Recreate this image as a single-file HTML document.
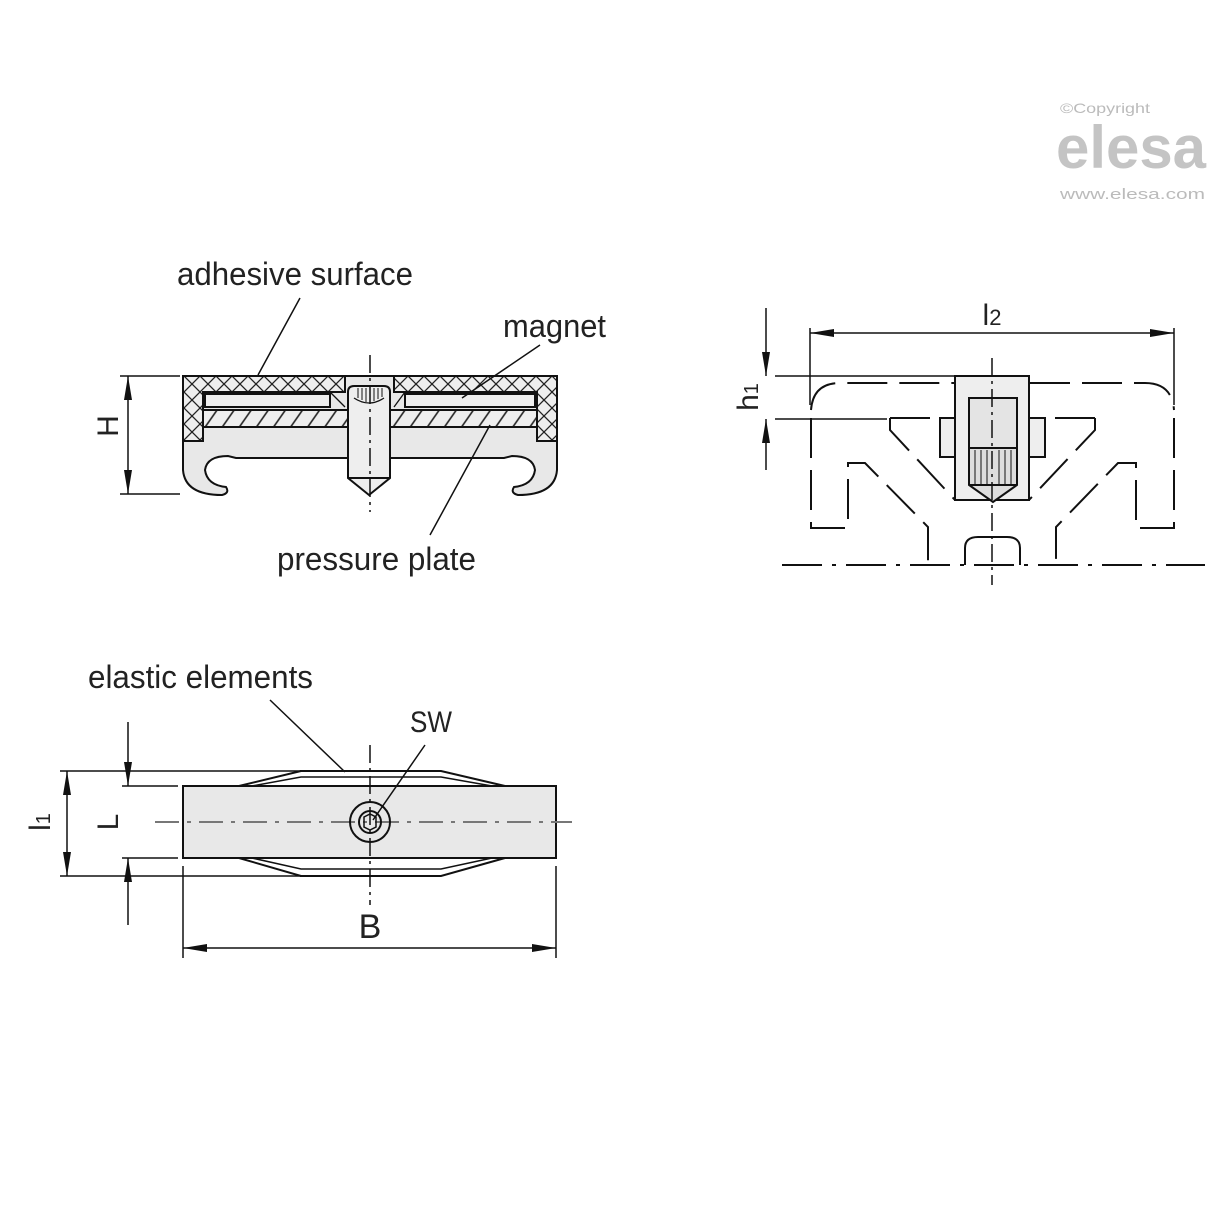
<!DOCTYPE html>
<html><head><meta charset="utf-8"><style>
html,body{margin:0;padding:0;background:#fff;}
svg{display:block}
text{font-family:"Liberation Sans",sans-serif;fill:#222}
</style></head><body>
<svg width="1214" height="1214" viewBox="0 0 1214 1214" xmlns="http://www.w3.org/2000/svg">
<defs>
<pattern id="xh" width="16" height="16" patternUnits="userSpaceOnUse">
<rect width="16" height="16" fill="#eee"/>
<path d="M0,0L16,16M16,0L0,16" stroke="#222" stroke-width="1.3"/>
</pattern>
<pattern id="dh" width="14" height="14" patternUnits="userSpaceOnUse" patternTransform="rotate(-55)">
<rect width="14" height="14" fill="#eee"/>
<path d="M0,7H14" stroke="#222" stroke-width="1.6"/>
</pattern>
<marker id="ar" viewBox="0 0 24 10" refX="24" refY="5" markerWidth="24" markerHeight="10" markerUnits="userSpaceOnUse" orient="auto">
<path d="M0,1L24,5L0,9z" fill="#111"/>
</marker>
</defs>

<!-- logo -->
<text x="1060" y="113" font-size="14" style="fill:#bbb" textLength="90" lengthAdjust="spacingAndGlyphs">©Copyright</text>
<text x="1056" y="168" font-size="60" font-weight="bold" style="fill:#c4c4c4" textLength="150" lengthAdjust="spacingAndGlyphs">elesa</text>
<text x="1060" y="199" font-size="15" style="fill:#bbb" textLength="145" lengthAdjust="spacingAndGlyphs">www.elesa.com</text>

<!-- ========== TOP LEFT VIEW ========== -->
<g stroke="#111" stroke-width="2" fill="none">
<path d="M183,376 H557 V470 Q555,495 518,495 Q510,493 514,487 Q533,485 535,470 Q533,456 512,456 L504,458 H236 L228,456 Q207,456 205,470 Q207,485 226,487 Q230,493 222,495 Q185,495 183,470 Z" fill="#e8e8e8"/>
<path d="M183,376 H345 V392 H203 V441 H183 Z" fill="url(#xh)"/>
<path d="M394,376 H557 V441 H537 V392 H394 Z" fill="url(#xh)"/>
<path d="M345,376 H394" />
<rect x="205" y="394" width="125" height="13" fill="#eee"/>
<rect x="405" y="394" width="130" height="13" fill="#eee"/>
<path d="M330,392 L345,407 M405,392 L394,407" stroke-width="1.3"/>
<rect x="203" y="410" width="334" height="17" fill="url(#dh)"/>
<path d="M348,392 Q348,386 354,386 H384 Q390,386 390,392 V478 L369,495 L348,478 Z" fill="#eee"/>
<path d="M348,478 H390"/>
<path d="M354,398 Q369,408 384,398" stroke-width="1.3"/>
<path d="M358,388 V398 M362,388 V400 M366,388 V402 M370,388 V402 M374,388 V401 M378,388 V399 M382,388 V397" stroke-width="1"/>
<path d="M370,355 V512" stroke-width="1.5" stroke-dasharray="18,5,3,5"/>
<path d="M120,376 H180 M120,494 H180" stroke-width="1.5"/>
<path d="M128,436 V376" stroke-width="1.5" marker-end="url(#ar)"/>
<path d="M128,436 V494" stroke-width="1.5" marker-end="url(#ar)"/>
<path d="M300,298 L258,375 M540,345 L462,398 M430,535 L490,425" stroke-width="1.5"/>
</g>
<text x="128" y="436" font-size="30" text-anchor="middle" transform="rotate(-90 118 436)">H</text>
<text x="177" y="285" font-size="32" textLength="236" lengthAdjust="spacingAndGlyphs">adhesive surface</text>
<text x="503" y="337" font-size="32" textLength="103" lengthAdjust="spacingAndGlyphs">magnet</text>
<text x="277" y="570" font-size="32" textLength="199" lengthAdjust="spacingAndGlyphs">pressure plate</text>

<!-- ========== RIGHT VIEW ========== -->
<g stroke="#111" stroke-width="2" fill="none">
<path d="M810,328 V405 M1174,328 V405" stroke-width="1.5"/>
<path d="M992,333 H810" stroke-width="1.5" marker-end="url(#ar)"/>
<path d="M992,333 H1174" stroke-width="1.5" marker-end="url(#ar)"/>
<path d="M775,376 H955 M775,419 H887" stroke-width="1.5"/>
<path d="M766,308 V376" stroke-width="1.5" marker-end="url(#ar)"/>
<path d="M766,470 V419" stroke-width="1.5" marker-end="url(#ar)"/>
<g stroke-dasharray="40,12" stroke-width="2">
<path d="M811,410 Q813,383 840,383 H955"/>
<path d="M1030,383 H1145 Q1172,383 1174,410"/>
<path d="M811,418 V528 H848 V463 H865 L928,527 V565"/>
<path d="M1174,418 V528 H1136 V463 H1118 L1056,527 V565"/>
<path d="M890,418 H940 M890,418 V430 L955,500"/>
<path d="M1095,418 H1045 M1095,418 V430 L1029,500"/>
<path d="M965,565 V548 Q965,537 978,537 H1007 Q1020,537 1020,548 V565" stroke-dasharray="none"/>
</g>
<path d="M782,565 H1205" stroke-width="2" stroke-dasharray="40,10,4,10"/>
<path d="M955,376 H1029 V500 H955 Z" fill="#eee"/>
<rect x="940" y="418" width="15" height="39" fill="#eee"/>
<rect x="1029" y="418" width="16" height="39" fill="#eee"/>
<rect x="969" y="398" width="48" height="50" fill="#e4e4e4"/>
<path d="M969,448 V485 L993,502 L1017,485 V448 Z" fill="#ddd"/>
<path d="M969,485 H1017"/>
<path d="M975,450 V485 M981,450 V485 M987,450 V485 M999,450 V485 M1005,450 V485 M1011,450 V485" stroke-width="1"/>
<path d="M992,358 V585" stroke-width="1.5" stroke-dasharray="18,5,3,5"/>
</g>
<text x="992" y="325" font-size="30" text-anchor="middle">l<tspan font-size="22">2</tspan></text>
<text x="748" y="397" font-size="30" text-anchor="middle" transform="rotate(-90 748 397)" dy="10">h<tspan font-size="20">1</tspan></text>

<!-- ========== BOTTOM VIEW ========== -->
<g stroke="#111" stroke-width="2" fill="none">
<path d="M60,771 H300 M60,876 H300 M122,786 H178 M122,858 H178" stroke-width="1.5"/>
<path d="M239,786 L301,771 H441 L505,786" />
<path d="M252,786 L301,777 H441 L492,786" stroke-width="1.5"/>
<path d="M239,858 L301,876 H441 L505,858" />
<path d="M252,858 L301,869 H441 L492,858" stroke-width="1.5"/>
<path d="M300,771 H441 M300,876 H441"/>
<rect x="183" y="786" width="373" height="72" fill="#e8e8e8"/>
<path d="M155,822 H572" stroke="#777" stroke-width="2" stroke-dasharray="24,8,4,8"/>
<path d="M370,745 V905" stroke-width="1.5" stroke-dasharray="18,5,3,5"/>
<circle cx="370" cy="822" r="20"/>
<circle cx="370" cy="822" r="11"/>
<path d="M364,817 L370,814 L376,817 V827 L370,830 L364,827 Z" stroke-width="1.5"/>
<path d="M67,822 V771" stroke-width="1.5" marker-end="url(#ar)"/>
<path d="M67,822 V876" stroke-width="1.5" marker-end="url(#ar)"/>
<path d="M128,722 V786" stroke-width="1.5" marker-end="url(#ar)"/>
<path d="M128,925 V858" stroke-width="1.5" marker-end="url(#ar)"/>
<path d="M183,866 V958 M556,866 V958" stroke-width="1.5"/>
<path d="M370,948 H183" stroke-width="1.5" marker-end="url(#ar)"/>
<path d="M370,948 H556" stroke-width="1.5" marker-end="url(#ar)"/>
<path d="M270,700 L345,772 M425,745 L373,820" stroke-width="1.5"/>
</g>
<text x="40" y="822" font-size="30" text-anchor="middle" transform="rotate(-90 40 822)" dy="10">l<tspan font-size="20">1</tspan></text>
<text x="108" y="822" font-size="30" text-anchor="middle" transform="rotate(-90 108 822)" dy="10">L</text>
<text x="370" y="938" font-size="34" text-anchor="middle">B</text>
<text x="88" y="688" font-size="32" textLength="225" lengthAdjust="spacingAndGlyphs">elastic elements</text>
<text x="410" y="732" font-size="30" textLength="42" lengthAdjust="spacingAndGlyphs">SW</text>
</svg>
</body></html>
